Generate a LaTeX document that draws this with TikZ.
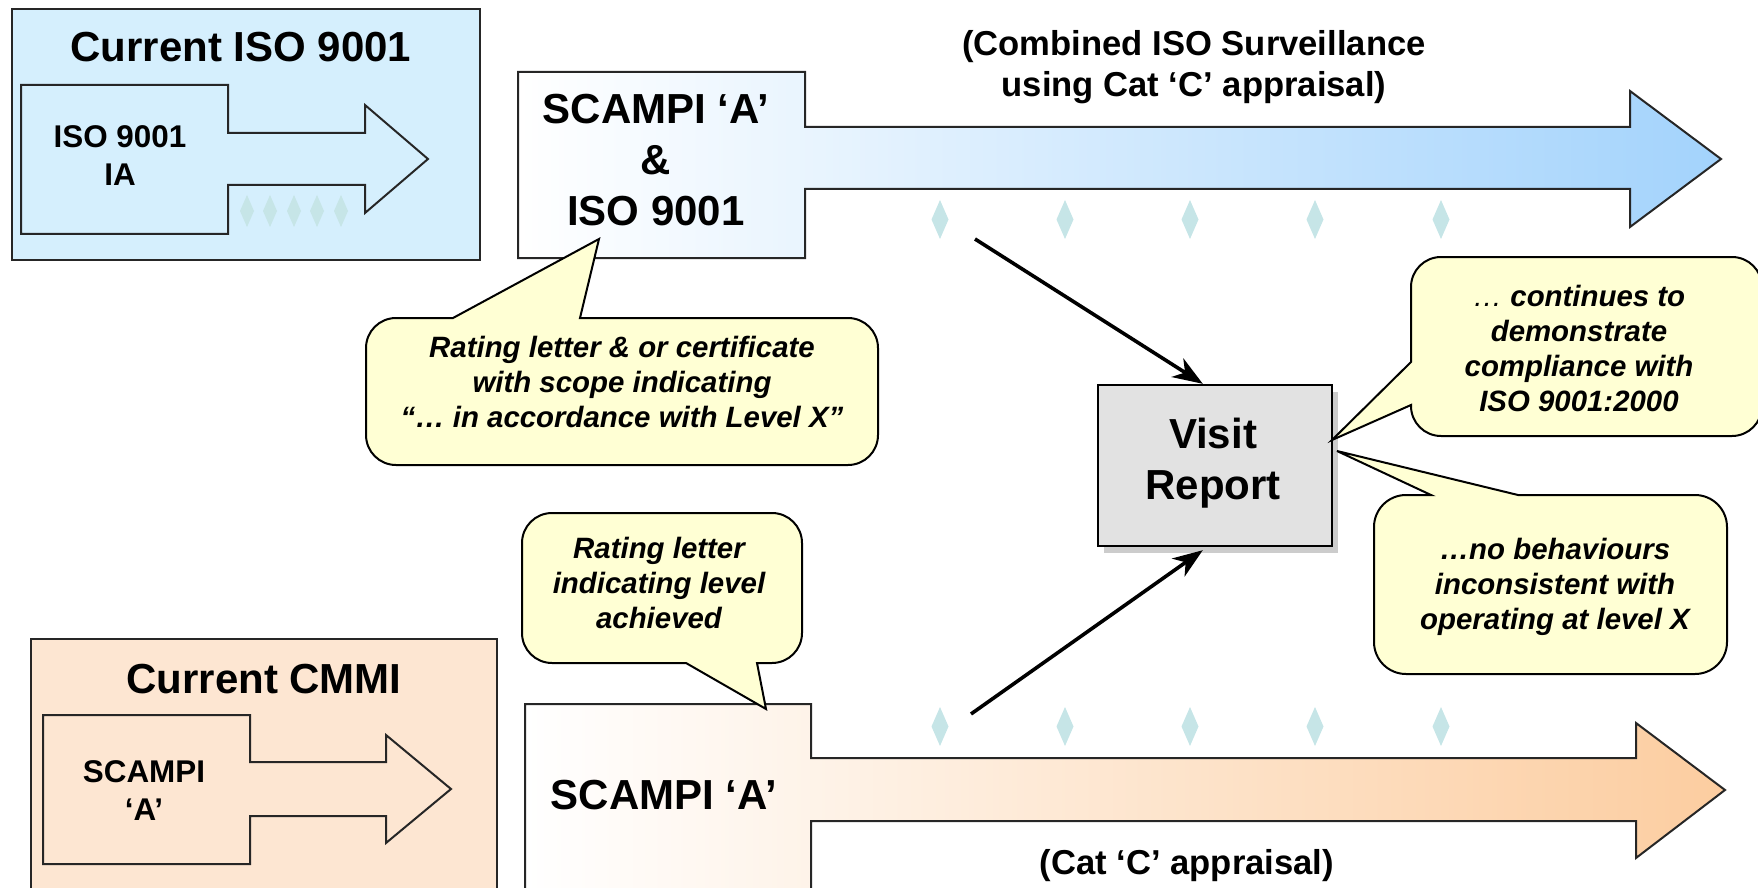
\documentclass[tikz,border=0pt]{standalone}
\usepackage{fontspec}
\setmainfont{Liberation Sans}
\usetikzlibrary{arrows.meta,shadows,calc}
\definecolor{boxblue}{RGB}{213,239,253}
\definecolor{boxpeach}{RGB}{253,230,210}
\definecolor{bubfill}{RGB}{255,255,212}
\definecolor{vrgray}{RGB}{226,226,226}
\definecolor{arrblue}{RGB}{163,211,252}
\definecolor{arrpeach}{RGB}{252,205,160}
\definecolor{dia}{RGB}{198,229,231}
\begin{document}
\begin{tikzpicture}[x=0.5pt,y=-0.5pt,
  frame/.style={draw=black!85, line width=1pt},
  bigtxt/.style={font=\fontsize{21}{25.5}\selectfont\bfseries, align=center, inner sep=0pt},
  lbltxt/.style={font=\fontsize{17.3}{20.5}\selectfont\bfseries, align=center, inner sep=0pt},
  smalltxt/.style={font=\fontsize{15.7}{19}\selectfont\bfseries, align=center, inner sep=0pt},
  bubtxt/.style={font=\fontsize{14.7}{17.5}\selectfont\bfseries\itshape, align=center, inner sep=0pt},
  bubble/.style={draw=black, line width=1pt, fill=bubfill},
  diafill/.style={fill=dia},
  conn/.style={line width=1.8pt, -{Stealth[length=15pt,width=11pt,inset=4.5pt]}},
  vrbox/.style={draw=black, line width=1.2pt, fill=vrgray, minimum width=117pt, minimum height=80.5pt,
    drop shadow={shadow xshift=3pt, shadow yshift=-3.5pt, opacity=0.4}}
]
\useasboundingbox (0,0) rectangle (1758,888);

% ---------- Current ISO 9001 box ----------
\draw[frame, fill=boxblue] (12,9) rectangle (480,260);
\draw[frame, fill=boxblue] (21,85) -- (228,85) -- (228,133) -- (365,133) -- (365,105) -- (428,159)
  -- (365,213) -- (365,185) -- (228,185) -- (228,234) -- (21,234) -- cycle;
\foreach \x in {247,270,294,317,341}
  \fill[diafill] (\x,195) -- (\x+7,211) -- (\x,227) -- (\x-7,211) -- cycle;
\node[bigtxt] (tiso) at (241,47) {Current ISO 9001};
\node[smalltxt] (tisoia) at (120,156) {ISO 9001\\IA};

% ---------- Current CMMI box ----------
\draw[frame, fill=boxpeach] (31,639) rectangle (497,900);
\draw[frame, fill=boxpeach] (43,715) -- (250,715) -- (250,762) -- (386,762) -- (386,735) -- (451,789)
  -- (386,843) -- (386,816) -- (250,816) -- (250,864) -- (43,864) -- cycle;
\node[bigtxt] (tcmmi) at (264,679) {Current CMMI};
\node[smalltxt] (tscin) at (144,791) {SCAMPI\\‘A’};

% ---------- top big arrow ----------
\draw[frame, left color=white, right color=arrblue] (518,72) -- (805,72) -- (805,127) -- (1630,127)
  -- (1630,91) -- (1721,159) -- (1630,227) -- (1630,189) -- (805,189) -- (805,258) -- (518,258) -- cycle;
\node[bigtxt] (tsa) at (656,160) {SCAMPI ‘A’\\\&\\ISO 9001};
\node[lbltxt] (tcomb) at (1194,67) {(Combined ISO Surveillance\\using Cat ‘C’ appraisal)};
\foreach \x in {940,1065,1190,1315,1441}
  \fill[diafill] (\x,200) -- (\x+8.5,219.5) -- (\x,239) -- (\x-8.5,219.5) -- cycle;

% ---------- bottom big arrow ----------
\draw[frame, left color=white, right color=arrpeach] (525,704) -- (811,704) -- (811,758) -- (1636,758)
  -- (1636,723) -- (1725,790) -- (1636,858) -- (1636,821) -- (811,821) -- (811,900) -- (525,900) -- cycle;
\node[bigtxt] (tsb) at (664,795) {SCAMPI ‘A’};
\node[lbltxt] (tcat) at (1187,866) {(Cat ‘C’ appraisal)};
\foreach \x in {940,1065,1190,1315,1441}
  \fill[diafill] (\x,707) -- (\x+8.5,726.5) -- (\x,746) -- (\x-8.5,726.5) -- cycle;

% ---------- Visit Report ----------
\node[vrbox] (vr) at (1215,465.5) {};
\node[bigtxt] (vrt) at (1213,463) {Visit\\Report};
\coordinate (a1) at (975,239);
\coordinate (a2) at (971,714);
\draw[conn] (a1) -- ($(vr.north west)+(106,0)$);
\draw[conn] (a2) -- ($(vr.south west)+(106,3)$);

% ---------- bubbles ----------
\draw[bubble] (453,318) -- (599,239) -- (580,318) -- (848,318) arc[start angle=270,end angle=360,radius=30]
  -- (878,435) arc[start angle=0,end angle=90,radius=30]
  -- (396,465) arc[start angle=90,end angle=180,radius=30]
  -- (366,348) arc[start angle=180,end angle=270,radius=30] -- cycle;
\node[bubtxt] (b1t) at (622,382) {Rating letter \& or certificate\\with scope indicating\\“… in accordance with Level X”};

\draw[bubble] (1411,405) -- (1332,440) -- (1411,362) -- (1411,287) arc[start angle=180,end angle=270,radius=30]
  -- (1732,257) arc[start angle=270,end angle=360,radius=30]
  -- (1762,406) arc[start angle=0,end angle=90,radius=30]
  -- (1441,436) arc[start angle=90,end angle=180,radius=30] -- cycle;
\node[bubtxt] (b2t) at (1579,348) {{\mdseries …} continues to\\demonstrate\\compliance with\\ISO 9001:2000};

\draw[bubble] (1431,495) -- (1337,451) -- (1518,495) -- (1695,495) arc[start angle=270,end angle=360,radius=32]
  -- (1727,642) arc[start angle=0,end angle=90,radius=32]
  -- (1406,674) arc[start angle=90,end angle=180,radius=32]
  -- (1374,527) arc[start angle=180,end angle=270,radius=32] -- cycle;
\node[bubtxt] (b3t) at (1555,587) {…no behaviours\\inconsistent with\\operating at level X};

\draw[bubble] (686,663) -- (766,709) -- (757,663) -- (772,663) arc[start angle=90,end angle=0,radius=30]
  -- (802,543) arc[start angle=0,end angle=-90,radius=30]
  -- (552,513) arc[start angle=270,end angle=180,radius=30]
  -- (522,633) arc[start angle=180,end angle=90,radius=30] -- cycle;
\node[bubtxt] (b4t) at (659,583) {Rating letter\\indicating level\\achieved};
\end{tikzpicture}
\end{document}
